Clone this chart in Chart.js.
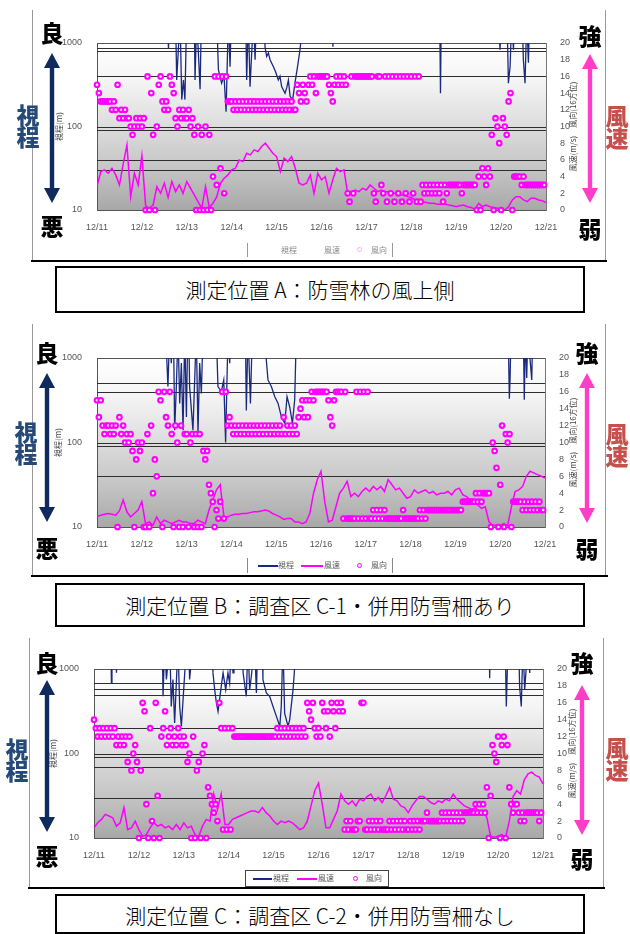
<!DOCTYPE html>
<html lang="ja">
<head>
<meta charset="utf-8">
<title>視程・風速・風向の観測結果</title>
<script src="https://cdn.jsdelivr.net/npm/chart.js@4.4.1/dist/chart.umd.min.js"></script>
<style>
  html,body{margin:0;padding:0;background:#fff;}
  body{position:relative;width:630px;height:934px;overflow:hidden;font-family:"Noto Sans CJK JP","Noto Sans",sans-serif;}
  canvas{position:absolute;}
  .ln{position:absolute;}
  .big{position:absolute;transform:translate(-50%,-50%);font-size:23px;font-weight:900;line-height:23px;color:#000;white-space:nowrap;}
  .vt{position:absolute;transform:translate(-50%,-50%);font-size:23px;font-weight:900;line-height:22px;text-align:center;width:26px;}
  .cap{position:absolute;left:55px;width:530px;box-sizing:border-box;border:2px solid #000;text-align:center;font-size:21px;color:#000;background:#fff;font-weight:300;}
  .lg{position:absolute;box-sizing:border-box;font-size:8px;line-height:10px;color:#555;}
  .lg span{position:absolute;white-space:nowrap;}
  .lg .sw{height:1.5px;}
  .lg .ring{width:3px;height:3px;border:1px solid #ff00ff;border-radius:50%;}
  svg{position:absolute;left:0;top:0;}
</style>
</head>
<body>

<!-- panel frames -->
<div class="ln" style="left:32px;top:10px;width:1px;height:252px;background:#999"></div>
<div class="ln" style="left:605px;top:10px;width:1px;height:252px;background:#999"></div>
<div class="ln" style="left:31px;top:260px;width:576px;height:2px;background:#000"></div>

<div class="ln" style="left:32px;top:324px;width:1px;height:252px;background:#999"></div>
<div class="ln" style="left:605px;top:324px;width:1px;height:252px;background:#999"></div>
<div class="ln" style="left:31px;top:575px;width:577px;height:2px;background:#000"></div>

<div class="ln" style="left:29px;top:638px;width:1px;height:250px;background:#999"></div>
<div class="ln" style="left:603px;top:638px;width:1px;height:250px;background:#999"></div>
<div class="ln" style="left:28px;top:887px;width:577px;height:2px;background:#000"></div>

<canvas id="chartA" width="550" height="200" style="left:40px;top:30px"></canvas>
<canvas id="chartB" width="550" height="202" style="left:40px;top:345px"></canvas>
<canvas id="chartC" width="550" height="202" style="left:37px;top:656px"></canvas>

<svg id="arrows" width="630" height="934"></svg>

<!-- side captions -->
<div class="big" style="left:52px;top:32px">良</div>
<div class="big" style="left:52px;top:225px">悪</div>
<div class="vt" style="left:28px;top:125px;color:#24497a">視<br>程</div>
<div class="big" style="left:590px;top:35px">強</div>
<div class="big" style="left:590px;top:228px">弱</div>
<div class="vt" style="left:617px;top:126px;color:#c5504e">風<br>速</div>

<div class="big" style="left:47px;top:352px">良</div>
<div class="big" style="left:47px;top:547px">悪</div>
<div class="vt" style="left:26px;top:442px;color:#24497a">視<br>程</div>
<div class="big" style="left:587px;top:352px">強</div>
<div class="big" style="left:587px;top:548px">弱</div>
<div class="vt" style="left:617px;top:444px;color:#c5504e">風<br>速</div>

<div class="big" style="left:47px;top:662px">良</div>
<div class="big" style="left:47px;top:855px">悪</div>
<div class="vt" style="left:17px;top:759px;color:#24497a">視<br>程</div>
<div class="big" style="left:582px;top:662px">強</div>
<div class="big" style="left:582px;top:858px">弱</div>
<div class="vt" style="left:617px;top:758px;color:#c5504e">風<br>速</div>

<!-- legends -->
<div class="lg" style="left:247px;top:243px;width:146px;height:14px;border-left:1px solid #999;border-right:1px solid #999;color:#888">
  <span style="left:33px;top:2px">視程</span>
  <span style="left:76px;top:2px">風速</span>
  <span class="ring" style="left:109px;top:4px;border-color:#f7b0f0"></span>
  <span style="left:123px;top:2px">風向</span>
</div>
<div class="lg" style="left:247px;top:558px;width:146px;height:15px;border-left:1px solid #888;border-right:1px solid #888">
  <span class="sw" style="left:10px;top:7px;width:20px;background:#1b2a7e"></span>
  <span style="left:30px;top:2px">視程</span>
  <span class="sw" style="left:53px;top:7px;width:22px;background:#ff00ff"></span>
  <span style="left:76px;top:2px">風速</span>
  <span class="ring" style="left:109px;top:5px"></span>
  <span style="left:123px;top:2px">風向</span>
</div>
<div class="lg" style="left:245px;top:870px;width:144px;height:17px;border:1px solid #444">
  <span class="sw" style="left:7px;top:7px;width:19px;background:#1b2a7e"></span>
  <span style="left:27px;top:2px">視程</span>
  <span class="sw" style="left:51px;top:7px;width:20px;background:#ff00ff"></span>
  <span style="left:72px;top:2px">風速</span>
  <span class="ring" style="left:107px;top:5px"></span>
  <span style="left:120px;top:2px">風向</span>
</div>

<!-- location captions -->
<div class="cap" style="top:266px;height:47px;line-height:43px">測定位置 A：防雪林の風上側</div>
<div class="cap" style="top:583px;height:44px;line-height:40px">測定位置 B：調査区 C-1・併用防雪柵あり</div>
<div class="cap" style="top:894px;height:40px;line-height:38px">測定位置 C：調査区 C-2・併用防雪柵なし</div>

<script>
// ---- axis labels ----
const dayLabels = ['12/11','12/12','12/13','12/14','12/15','12/16','12/17','12/18','12/19','12/20','12/21'];
const visTicks = [10, 100, 1000];

// ---- wind speed (m/s), every 2 hours from 12/11 0:00 ----
const speedA = [
  2.8,4.6,4.8,4.4,5.0,4.2,3.0,5.5,7.8,1.6,4.4,3.0,
  6.5,0.5,0.2,0.6,2.8,2.0,3.2,1.5,3.4,2.2,3.0,2.0,
  3.4,2.6,1.8,1.0,0.2,2.8,0.3,0.8,1.6,3.2,3.8,4.2,
  4.8,5.0,6.0,5.8,6.8,6.6,7.2,7.0,7.6,8.0,7.4,6.8,
  6.4,4.6,6.2,5.8,6.4,5.0,3.2,3.0,3.2,4.2,2.0,4.4,
  3.6,4.0,2.0,3.6,5.0,4.6,4.8,2.0,2.2,2.4,2.2,2.6,
  2.4,3.0,2.6,2.2,2.4,2.2,2.2,2.0,2.0,1.8,1.8,1.6,
  1.5,1.2,1.1,1.0,0.9,0.8,0.8,0.7,0.7,0.7,0.6,0.5,
  0.4,0.5,0.6,0.4,0.3,0.1,0.8,0.4,0.6,0.4,0.3,0.2,
  0.1,0.0,0.4,1.2,1.6,1.6,1.2,1.0,1.4,1.4,1.2,1.1,0.9
];
const speedB = [
  1.2,1.4,1.5,1.6,1.5,1.4,1.9,3.2,1.8,1.2,1.6,2.0,
  3.0,0.4,0.6,0.2,1.2,0.4,0.8,0.6,0.4,0.6,0.8,0.6,
  0.6,0.4,0.4,0.8,0.6,0.4,2.0,3.2,4.4,5.0,1.2,1.2,
  1.4,1.5,1.5,1.6,1.6,1.7,1.8,1.8,1.9,2.0,1.9,1.6,
  1.4,1.2,0.9,1.0,1.0,0.6,0.6,0.4,0.6,1.6,4.0,5.6,
  6.6,3.0,0.6,0.8,2.4,4.0,4.6,5.4,3.6,4.0,3.6,4.2,
  4.6,4.2,4.8,4.4,4.8,4.2,5.6,5.0,4.4,4.6,4.0,3.4,
  3.6,4.4,4.0,4.2,4.4,4.0,4.2,3.8,4.0,4.0,4.2,3.8,
  4.4,4.6,3.8,3.6,3.2,3.0,2.6,2.2,2.4,0.6,0.2,0.2,
  0.2,0.4,0.2,2.4,4.2,4.4,4.8,6.0,6.6,6.4,6.2,6.0,5.8
];
const speedC = [
  1.2,1.8,2.2,2.8,2.6,2.4,1.4,1.8,3.6,1.0,1.2,2.0,
  1.0,0.2,0.4,1.2,1.8,1.4,1.6,1.2,1.4,1.0,1.6,1.0,
  1.8,1.2,1.4,0.4,0.2,1.4,2.2,2.0,5.2,3.4,5.2,1.6,
  1.6,2.2,2.4,2.6,2.8,3.0,3.2,3.2,3.0,3.6,3.0,2.6,
  2.0,1.6,2.0,1.8,2.0,1.8,1.4,1.0,1.2,2.0,3.8,5.6,
  6.5,4.0,1.2,1.2,2.2,3.2,5.2,4.4,4.0,4.4,3.8,4.6,
  4.4,4.9,5.2,4.4,4.8,4.2,5.0,6.0,4.6,4.4,3.8,3.6,
  3.0,3.8,4.4,4.9,4.9,4.6,4.2,4.0,4.4,4.2,4.6,4.4,
  5.2,4.6,4.2,3.8,3.6,3.4,3.6,3.0,3.2,2.4,0.2,0.1,
  0.2,0.4,0.1,2.0,4.9,5.6,5.2,6.9,7.6,7.8,7.4,7.2,6.4
];

// ---- wind direction (16 points, 0 = calm), hourly ----
const dirA = [
  15,14,13,13,13,13,13,13,12,13,12,15,11,12,11,12,11,11,10,9,10,11,10,11,
  10,11,0,16,0,14,9,0,10,15,16,13,12,13,12,16,15,14,11,10,12,11,12,11,
  11,12,10,11,9,0,10,0,9,0,10,0,9,0,4,16,3,16,5,16,2,16,13,13,
  13,12,13,12,13,12,13,12,13,12,13,12,13,12,13,12,13,12,13,12,13,12,13,12,
  13,12,13,12,13,12,13,12,13,12,12,15,14,13,15,14,13,15,16,15,16,14,16,16,
  16,16,16,16,15,14,13,15,16,15,16,15,16,15,2,1,16,2,16,16,16,16,16,16,
  16,16,16,16,2,1,16,16,3,2,16,1,16,2,16,1,16,2,16,1,16,2,16,1,
  16,2,16,1,16,1,3,2,3,2,3,2,3,2,3,2,3,1,3,2,3,3,3,3,
  3,3,3,2,3,3,3,3,3,3,3,0,4,0,5,4,3,5,4,9,0,11,10,8,
  0,11,10,9,13,14,0,4,4,4,4,3,4,3,3,3,3,3,3,3,3,3,3,3
];
const dirB = [
  15,13,15,12,11,12,12,11,12,11,12,0,13,11,12,10,11,10,11,9,0,8,10,9,
  10,0,0,11,0,12,4,8,6,16,15,0,16,13,12,16,11,0,12,10,0,12,0,11,
  11,0,10,11,0,11,0,11,0,9,8,9,5,4,3,0,2,1,3,16,1,16,12,13,
  12,11,12,11,12,11,12,11,12,11,12,11,12,11,12,11,12,11,12,11,12,11,12,11,
  12,11,12,11,13,11,12,11,12,11,12,11,13,14,15,13,15,13,15,16,15,16,16,16,
  16,16,16,16,15,13,12,15,16,16,16,16,1,16,1,1,1,1,1,16,1,16,1,16,
  1,16,1,1,2,1,2,1,2,1,2,1,1,1,1,1,1,1,1,1,2,1,1,1,
  1,1,1,1,1,2,1,2,1,2,2,2,2,2,2,2,2,2,2,2,2,2,2,2,
  2,2,2,2,3,3,3,3,3,3,3,4,3,4,3,4,4,4,4,0,10,9,7,0,
  5,12,0,11,10,11,0,3,3,3,3,3,2,3,2,3,2,3,2,3,2,3,2,2
];
const dirC = [
  14,13,12,13,12,13,12,13,12,13,12,13,11,12,11,12,11,12,9,12,8,10,11,9,
  0,8,16,15,4,0,13,2,0,16,5,0,12,13,15,11,12,13,11,12,11,13,12,11,
  12,11,9,10,0,12,0,8,9,0,10,11,0,6,5,4,3,4,2,16,13,1,13,1,
  13,1,13,12,12,12,12,12,12,12,12,12,12,12,12,12,12,12,12,12,12,12,12,12,
  12,12,13,12,13,12,13,12,13,12,13,12,13,12,13,12,13,12,16,15,14,16,13,12,
  13,12,16,15,13,15,12,16,15,13,16,15,16,15,1,2,1,2,1,1,1,2,2,16,
  16,1,1,2,1,2,1,2,1,2,1,1,1,1,2,1,2,1,2,1,2,1,2,1,
  1,2,1,2,1,2,1,2,2,2,3,2,2,2,2,2,2,2,3,2,3,2,3,2,
  3,2,3,2,3,2,3,3,3,3,3,3,4,3,4,3,4,3,6,0,5,11,10,9,
  12,0,11,12,0,11,6,4,3,4,4,3,2,3,2,3,3,3,3,3,3,3,2,3
];

// ---- visibility (m): [hours from 12/11 0:00, value]; 2000 = over range ----
const visA = [
  [37.5,2000],[38.2,870],[38.8,2000],
  [42,2000],[42.6,360],[44.4,2000],[45.3,210],[46.2,360],[47,210],[47.9,2000],
  [52,2000],[52.4,360],[53.3,2000],[55.1,280],[55.8,2000],
  [64,2000],[64.9,480],[66.6,330],[67.9,400],[69,150],[70.2,2000],[71.1,520],[71.8,2000],
  [79.5,2000],[80,360],[80.9,2000],[81.8,300],[83.6,2000],[84.5,630],[85.2,2000],
  [89.5,2000],[89.8,900],[90.7,690],[91.6,760],[92.5,630],[94.3,520],[95.5,450],[96.9,360],[97.8,400],
  [98.7,300],[100.5,250],[101.4,290],[102.3,360],[103.2,230],[104.6,210],[105.8,330],[107.2,520],[108.5,830],[110.3,2000],
  [125.8,2000],[126.1,900],[126.4,2000],
  [183.2,2000],[183.6,250],[184,2000],
  [214.8,2000],[215.4,830],[216.2,2000],[219.2,2000],[219.9,330],[220.8,520],[221.7,2000],[222.6,830],[223.2,2000],
  [227.3,2000],[227.9,630],[228.8,330],[229.7,2000],[230.6,580],[231.2,2000]
];
const visB = [
  [36.8,2000],[38,460],[38.9,2000],[39.8,870],[40.3,2000],
  [41,2000],[41.6,140],[42.5,460],[43.4,2000],[44.3,290],[45.2,870],[46.1,140],[47,2000],[47.9,200],[48.6,2000],
  [49.2,2000],[49.6,460],[51.4,140],[53.2,2000],[54.1,130],[55,870],[55.9,380],[56.8,2000],
  [63.9,2000],[64.8,460],[66.6,400],[67.9,550],[68.9,100],[70.2,2000],[71.1,870],[71.6,2000],
  [79.5,2000],[80,240],[80.9,2000],[82.2,290],[83.2,2000],
  [90.4,2000],[90.7,950],[91.6,550],[93.4,460],[95.2,350],[97,290],[98.8,200],[100.6,170],[101.8,350],
  [103.2,265],[104.7,170],[105.9,320],[106.8,2000],
  [220.3,2000],[220.9,330],[221.3,580],[221.8,2000],
  [228.4,2000],[228.9,320],[229.5,2000],[230.2,580],[230.8,2000],[232.9,550],[233.4,2000]
];
const visC = [
  [9,2000],[9.3,680],[9.6,2000],[11.8,2000],[12,900],[12.3,2000],
  [36.5,2000],[36.9,475],[37.8,2000],[38.7,750],[40.5,2000],[41.3,360],[42.2,750],[43.1,230],[44.9,2000],
  [45.8,360],[46.7,210],[47.6,430],[48.5,900],[49.4,2000],
  [50.6,2000],[51.1,750],[52.9,2000],
  [63.2,2000],[63.6,900],[64.5,570],[65.4,400],[66.3,315],[68,620],[69,900],[70.4,570],[71.6,900],[72.5,680],[73.4,2000],[74.3,900],[74.8,2000],
  [79.4,2000],[79.7,900],[81.4,475],[82.3,2000],[83.2,570],[84.1,820],[85.9,2000],[86.8,520],[87.5,2000],
  [90,2000],[90.3,750],[92.1,520],[93.9,475],[95.7,360],[97.5,275],[99.3,210],[100.1,360],[101,2000],
  [101.9,300],[103.7,210],[104.6,250],[106.4,570],[108.2,2000],
  [211.2,2000],[211.5,780],[211.8,2000],
  [219.8,2000],[220.4,360],[221.3,2000],
  [227,2000],[227.5,620],[228.4,360],[229.3,2000],[230.2,570],[232,2000],[232.9,900],[233.4,2000]
];

// ---- horizontal reference lines (visibility, m) ----
const levelsA = [880, 800, 400, 100, 90, 40, 30];
const levelsB = [510, 400, 100, 90, 40];
const levelsC = [690, 580, 490, 200, 100, 90, 70, 30];

// ---- double-headed arrows beside each panel ----
function arrowPath(x, y1, y2) {
  const hw = 8, hh = 15, sw = 2.2;
  return `M${x},${y1} L${x+hw},${y1+hh} L${x+sw},${y1+hh} L${x+sw},${y2-hh} L${x+hw},${y2-hh} ` +
         `L${x},${y2} L${x-hw},${y2-hh} L${x-sw},${y2-hh} L${x-sw},${y1+hh} L${x-hw},${y1+hh} Z`;
}
const arrowSpecs = [
  [52, 53, 203, '#0f2b5e'], [590, 54, 203, '#ff3ec8'],
  [47, 373, 522, '#0f2b5e'], [587, 373, 523, '#ff3ec8'],
  [47, 680, 832, '#0f2b5e'], [582, 685, 835, '#ff3ec8']
];
document.getElementById('arrows').innerHTML = arrowSpecs
  .map(([x, a, b, c]) => `<path d="${arrowPath(x, a, b)}" fill="${c}"/>`).join('');

// ---- chart decoration: shaded plot area, reference lines, axis titles ----
const plotDecor = {
  id: 'plotDecor',
  beforeDraw(chart) {
    const { ctx, chartArea: a } = chart;
    const g = ctx.createLinearGradient(0, a.top, 0, a.bottom);
    g.addColorStop(0, '#ffffff');
    g.addColorStop(0.22, '#f5f5f5');
    g.addColorStop(0.5, '#dcdcdc');
    g.addColorStop(0.75, '#c5c5c5');
    g.addColorStop(1, '#a8a8a8');
    ctx.save();
    ctx.fillStyle = g;
    ctx.fillRect(a.left, a.top, a.right - a.left, a.bottom - a.top);
    ctx.restore();
  },
  beforeDatasetsDraw(chart, args, opts) {
    const { ctx, chartArea: a, scales } = chart;
    ctx.save();
    ctx.strokeStyle = '#2e2e2e';
    ctx.lineWidth = 1.2;
    for (const v of opts.levels) {
      const y = Math.round(scales.y.getPixelForValue(v)) + 0.5;
      ctx.beginPath(); ctx.moveTo(a.left, y); ctx.lineTo(a.right, y); ctx.stroke();
    }
    ctx.strokeStyle = '#555';
    ctx.lineWidth = 1;
    ctx.beginPath(); ctx.moveTo(a.left, a.top + 0.5); ctx.lineTo(a.right, a.top + 0.5); ctx.stroke();
    ctx.restore();
  },
  afterDraw(chart, args, opts) {
    const { ctx, chartArea: a } = chart;
    const cy = (a.top + a.bottom) / 2;
    ctx.save();
    ctx.font = '8px "Noto Sans CJK JP"';
    ctx.fillStyle = '#444';
    ctx.textAlign = 'center';
    ctx.textBaseline = 'middle';
    ctx.translate(opts.leftTitleX, cy);
    ctx.rotate(-Math.PI / 2);
    ctx.fillText('視程(m)', 0, 0);
    ctx.restore();
    ctx.save();
    ctx.font = '8px "Noto Sans CJK JP"';
    ctx.fillStyle = '#444';
    ctx.textAlign = 'center';
    ctx.textBaseline = 'middle';
    ctx.translate(opts.rightTitleX, cy);
    ctx.rotate(-Math.PI / 2);
    ctx.fillText('風速(m/s)　風向(16方位)', 0, 0);
    ctx.restore();
  }
};

const tickFont = { family: '"Liberation Sans", Arial, sans-serif', size: 9 };

function buildChart(id, speed, dir, vis, levels, rightWidth, leftTitleX, rightTitleX) {
  const speedPts = speed.map((v, i) => ({ x: i * 2, y: v }));
  const dirPts = dir.map((v, i) => ({ x: i, y: v }));
  const visPts = vis.map(([h, v]) => ({ x: h, y: v }));
  return new Chart(document.getElementById(id), {
    type: 'line',
    data: {
      datasets: [
        { label: '風向', data: dirPts, yAxisID: 'y2', showLine: false, pointStyle: 'circle',
          pointRadius: 2.3, pointBorderWidth: 2.1, pointBorderColor: '#ff00ff',
          pointBackgroundColor: '#ffffff', order: 1, clip: 5 },
        { label: '風速', data: speedPts, yAxisID: 'y2', borderColor: '#ff00ff', borderWidth: 1.5,
          pointRadius: 0, tension: 0, order: 2 },
        { label: '視程', data: visPts, yAxisID: 'y', borderColor: '#1b2a7e', borderWidth: 1.3,
          pointRadius: 0, tension: 0, order: 3 }
      ]
    },
    options: {
      responsive: false,
      animation: false,
      events: [],
      layout: { padding: { top: 13, left: 0, right: 0, bottom: 0 } },
      plugins: {
        legend: { display: false },
        tooltip: { enabled: false },
        plotDecor: { levels, leftTitleX, rightTitleX }
      },
      scales: {
        x: {
          type: 'linear', min: 0, max: 240,
          grid: { display: false },
          border: { color: '#555' },
          ticks: { stepSize: 24, autoSkip: false, maxRotation: 0, padding: 4, color: '#555', font: tickFont,
                   callback: v => dayLabels[v / 24] ?? '' },
          afterFit(s) { s.height = 20; }
        },
        y: {
          type: 'logarithmic', position: 'left', min: 10, max: 1000,
          grid: { display: false },
          border: { color: '#555' },
          afterBuildTicks(s) { s.ticks = visTicks.map(v => ({ value: v })); },
          ticks: { padding: 7, color: '#555', font: tickFont, callback: v => String(v) },
          afterFit(s) { s.width = 57; }
        },
        y2: {
          type: 'linear', position: 'right', min: 0, max: 20,
          grid: { display: false },
          border: { color: '#777' },
          ticks: { stepSize: 2, padding: 6, color: '#555', font: tickFont },
          afterFit(s) { s.width = rightWidth; }
        }
      }
    },
    plugins: [plotDecor]
  });
}

buildChart('chartA', speedA, dirA, visA, levelsA, 44, 19, 533);
buildChart('chartB', speedB, dirB, visB, levelsB, 45, 18, 533);
buildChart('chartC', speedC, dirC, visC, levelsC, 44, 16, 535);
</script>
</body>
</html>
